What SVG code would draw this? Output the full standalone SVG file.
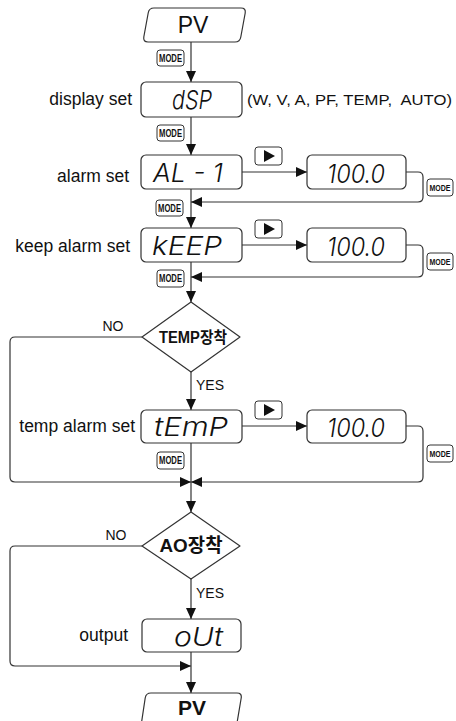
<svg xmlns="http://www.w3.org/2000/svg" width="456" height="721" viewBox="0 0 456 721">
<defs>
<marker id="arr" markerUnits="userSpaceOnUse" markerWidth="12" markerHeight="10" refX="11" refY="5" orient="auto">
<path d="M0,0 L11,5 L0,10 Z" fill="#111"/>
</marker>
<style>
.box{fill:#fff;stroke:#333;stroke-width:1.2}
.btn{fill:#fff;stroke:#333;stroke-width:1}
.ln{fill:none;stroke:#333;stroke-width:1.2}
.lbl{font-family:"Liberation Sans",Arial,sans-serif;font-size:17.5px;fill:#111}
.sm{font-family:"Liberation Sans",Arial,sans-serif;font-size:14px;fill:#111}
.mode{font-family:"Liberation Sans",Arial,sans-serif;font-size:10px;font-weight:bold;fill:#111}
.moder{font-family:"Liberation Sans",Arial,sans-serif;font-size:9px;font-weight:bold;fill:#111}
.seg{font-family:Inter,"Liberation Sans",sans-serif;font-size:26px;font-style:italic;font-weight:300;fill:#111}
.dia{font-family:"Liberation Sans","Noto Sans CJK KR",sans-serif;font-weight:bold;fill:#111}
.pv{font-family:"Liberation Sans",Arial,sans-serif;fill:#111}
</style>
</defs>
<rect width="456" height="721" fill="#fff"/>

<g id="connectors">
<line class="ln" x1="191" y1="42" x2="191" y2="82" marker-end="url(#arr)"/>
<line class="ln" x1="191" y1="117" x2="191" y2="155" marker-end="url(#arr)"/>
<line class="ln" x1="191" y1="189" x2="191" y2="228" marker-end="url(#arr)"/>
<line class="ln" x1="242" y1="172" x2="307" y2="172" marker-end="url(#arr)"/>
<path class="ln" d="M406,172 H418 Q423,172 423,177 V197 Q423,202 418,202 H191" marker-end="url(#arr)"/>
<line class="ln" x1="191" y1="262" x2="191" y2="302" marker-end="url(#arr)"/>
<line class="ln" x1="242" y1="245" x2="307" y2="245" marker-end="url(#arr)"/>
<path class="ln" d="M406,245 H418 Q423,245 423,250 V272 Q423,277 418,277 H191" marker-end="url(#arr)"/>
<line class="ln" x1="191" y1="372" x2="191" y2="410" marker-end="url(#arr)"/>
<path class="ln" d="M142,337 H15 Q10,337 10,342 V477 Q10,482 15,482 H191" marker-end="url(#arr)"/>
<line class="ln" x1="242" y1="426" x2="307" y2="426" marker-end="url(#arr)"/>
<path class="ln" d="M406,426 H418 Q423,426 423,431 V477 Q423,482 418,482 H191" marker-end="url(#arr)"/>
<line class="ln" x1="191" y1="443" x2="191" y2="512" marker-end="url(#arr)"/>
<line class="ln" x1="191" y1="578" x2="191" y2="619" marker-end="url(#arr)"/>
<path class="ln" d="M142,546 H15 Q10,546 10,551 V661 Q10,666 15,666 H191" marker-end="url(#arr)"/>
<line class="ln" x1="191" y1="652" x2="191" y2="693" marker-end="url(#arr)"/>
</g>

<g id="pv-top">
<path class="box" d="M154,8 H241 Q246,8 245.2,13 L240.8,37 Q240,42 235,42 H148 Q143,42 143.8,37 L148.2,13 Q149,8 154,8 Z"/>
<text class="pv" x="193" y="33" font-size="23" text-anchor="middle">PV</text>
</g>

<g id="mode1"><rect class="btn" x="157" y="50" width="27" height="16" rx="3"/><text class="mode" x="170.5" y="61.5" text-anchor="middle" textLength="23" lengthAdjust="spacingAndGlyphs">MODE</text></g>

<g id="dsp">
<text class="lbl" x="132" y="105" text-anchor="end">display set</text>
<rect class="box" x="141" y="82" width="101" height="35" rx="5"/>
<text class="seg" x="172" y="109" textLength="40" lengthAdjust="spacingAndGlyphs">dSP</text>
<text class="sm" x="247" y="105" font-size="15" textLength="205" lengthAdjust="spacingAndGlyphs" xml:space="preserve">(W, V, A, PF, TEMP,  AUTO)</text>
</g>

<g id="mode2"><rect class="btn" x="157" y="125" width="27" height="16" rx="3"/><text class="mode" x="170.5" y="136.5" text-anchor="middle" textLength="23" lengthAdjust="spacingAndGlyphs">MODE</text></g>

<g id="al1">
<text class="lbl" x="129" y="182" text-anchor="end">alarm set</text>
<rect class="box" x="141" y="155" width="101" height="34" rx="5"/>
<text class="seg" x="153" y="182" textLength="70" lengthAdjust="spacingAndGlyphs">AL - 1</text>
</g>
<g id="play1"><rect class="btn" x="255" y="147" width="27" height="18" rx="3"/><path d="M264,150 L275,156 L264,162 Z" fill="#111"/></g>
<g id="val1"><rect class="box" x="307" y="155" width="99" height="34" rx="5"/><text class="seg" x="327" y="183" textLength="58" lengthAdjust="spacingAndGlyphs">100.0</text></g>
<g id="mode-r1"><rect class="btn" x="427" y="179" width="26" height="17" rx="3"/><text class="moder" x="440" y="190.5" text-anchor="middle" textLength="21" lengthAdjust="spacingAndGlyphs">MODE</text></g>

<g id="mode3"><rect class="btn" x="156" y="200" width="27" height="16" rx="3"/><text class="mode" x="169.5" y="211.5" text-anchor="middle" textLength="23" lengthAdjust="spacingAndGlyphs">MODE</text></g>

<g id="keep">
<text class="lbl" x="130" y="252" text-anchor="end">keep alarm set</text>
<rect class="box" x="141" y="228" width="101" height="34" rx="5"/>
<text class="seg" x="152" y="255" textLength="70" lengthAdjust="spacingAndGlyphs">kEEP</text>
</g>
<g id="play2"><rect class="btn" x="255" y="220" width="27" height="18" rx="3"/><path d="M264,223 L275,229 L264,235 Z" fill="#111"/></g>
<g id="val2"><rect class="box" x="307" y="228" width="99" height="34" rx="5"/><text class="seg" x="327" y="256" textLength="58" lengthAdjust="spacingAndGlyphs">100.0</text></g>
<g id="mode-r2"><rect class="btn" x="427" y="253" width="26" height="17" rx="3"/><text class="moder" x="440" y="264.5" text-anchor="middle" textLength="21" lengthAdjust="spacingAndGlyphs">MODE</text></g>

<g id="mode4"><rect class="btn" x="157" y="270" width="27" height="17" rx="3"/><text class="mode" x="170.5" y="282" text-anchor="middle" textLength="23" lengthAdjust="spacingAndGlyphs">MODE</text></g>

<g id="temp-check">
<polygon class="box" points="191,302 240,337 191,372 142,337" stroke-linejoin="round"/>
<text class="dia" x="193" y="343" font-size="16" text-anchor="middle" textLength="68" lengthAdjust="spacingAndGlyphs">TEMP장착</text>
<text class="sm" x="113" y="331" text-anchor="middle">NO</text>
<text class="sm" x="196" y="390">YES</text>
</g>

<g id="temp">
<text class="lbl" x="135" y="432" text-anchor="end">temp alarm set</text>
<rect class="box" x="141" y="410" width="101" height="33" rx="5"/>
<text class="seg" x="154" y="436" textLength="74" lengthAdjust="spacingAndGlyphs">tEmP</text>
</g>
<g id="play3"><rect class="btn" x="255" y="401" width="27" height="18" rx="3"/><path d="M264,404 L275,410 L264,416 Z" fill="#111"/></g>
<g id="val3"><rect class="box" x="307" y="410" width="99" height="33" rx="5"/><text class="seg" x="327" y="437" textLength="58" lengthAdjust="spacingAndGlyphs">100.0</text></g>
<g id="mode-r3"><rect class="btn" x="427" y="445" width="26" height="17" rx="3"/><text class="moder" x="440" y="456.5" text-anchor="middle" textLength="21" lengthAdjust="spacingAndGlyphs">MODE</text></g>

<g id="mode5"><rect class="btn" x="157" y="452" width="27" height="17" rx="3"/><text class="mode" x="170.5" y="464" text-anchor="middle" textLength="23" lengthAdjust="spacingAndGlyphs">MODE</text></g>

<g id="ao-check">
<polygon class="box" points="191,512 240,546 191,579 142,546" stroke-linejoin="round"/>
<text class="dia" x="191" y="552" font-size="19" text-anchor="middle" textLength="63" lengthAdjust="spacingAndGlyphs">AO장착</text>
<text class="sm" x="116" y="540" text-anchor="middle">NO</text>
<text class="sm" x="196" y="598">YES</text>
</g>

<g id="out">
<text class="lbl" x="128" y="641" text-anchor="end">output</text>
<rect class="box" x="142" y="619" width="99" height="33" rx="5"/>
<text class="seg" x="174" y="646" textLength="49" lengthAdjust="spacingAndGlyphs">oUt</text>
</g>

<g id="pv-bottom">
<path class="box" d="M151,693 H237 Q242,693 241.2,698 L236.5,726 H141 L145.2,698 Q146,693 151,693 Z"/>
<text class="pv" x="192" y="715" font-size="21" font-weight="bold" text-anchor="middle">PV</text>
</g>
</svg>
